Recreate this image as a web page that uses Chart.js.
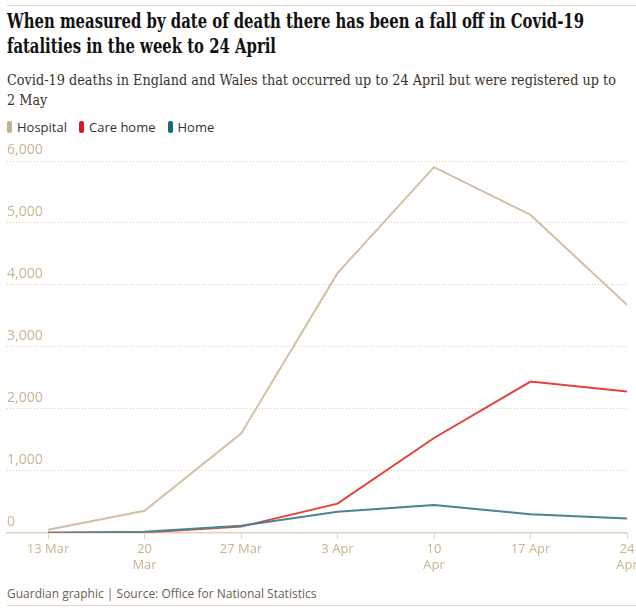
<!DOCTYPE html>
<html>
<head>
<meta charset="utf-8">
<script src="https://cdn.jsdelivr.net/npm/chart.js@4.4.1/dist/chart.umd.min.js"></script>
<style>
  html,body{margin:0;padding:0;background:#fff;width:636px;height:611px;overflow:hidden;position:relative;}
  .rule{position:absolute;left:7px;right:0;height:1px;background:#e3d8c4;}
  #title{position:absolute;left:7px;top:9px;white-space:nowrap;font-family:"DejaVu Serif",serif;font-weight:bold;font-size:20px;line-height:25px;color:#121212;transform-origin:0 0;}
  #sub{position:absolute;left:7px;top:70px;white-space:nowrap;font-family:"DejaVu Serif",serif;font-size:15.5px;line-height:20px;color:#3d3226;transform-origin:0 0;}
  .ln{display:inline-block;}
  #legend{position:absolute;left:7px;top:118px;font-family:"Open Sans",sans-serif;font-size:13px;color:#333;display:flex;gap:0;}
  #legend span.item{display:inline-flex;align-items:center;margin-right:12px;}
  #legend span.sw{display:inline-block;width:5px;height:12px;border-radius:2px;margin-right:5px;}
  #source{position:absolute;left:7px;top:585px;font-family:"Open Sans",sans-serif;font-size:12px;color:#6c5f4d;}
  #wrap{position:absolute;left:0;top:140px;width:660px;height:436px;}
</style>
</head>
<body>
<div class="rule" style="top:5px"></div>
<div id="title"><span class="ln" id="t1">When measured by date of death there has been a fall off in Covid-19</span><br><span class="ln">fatalities in the week to 24 April</span></div>
<div id="sub"><span class="ln" id="s1">Covid-19 deaths in England and Wales that occurred up to 24 April but were registered up to</span><br><span class="ln">2 May</span></div>
<div id="legend"></div>
<div id="wrap"><canvas id="c"></canvas></div>
<div id="source">Guardian graphic | Source: Office for National Statistics</div>
<div class="rule" style="top:605px"></div>
<script>
const categories = ["13 Mar", ["20", "Mar"], "27 Mar", "3 Apr", ["10", "Apr"], "17 Apr", ["24", "Apr"]];
const seriesNames = ["Hospital", "Care home", "Home"];
const hospital = [50, 355, 1600, 4190, 5900, 5130, 3680];
const careHome = [0, 5, 100, 470, 1530, 2440, 2280];
const home = [0, 15, 115, 340, 447, 300, 230];
const yTicks = [0, 1000, 2000, 3000, 4000, 5000, 6000];

const lineColors = ["#d3c0a1", "#e4413a", "#4d8491"];
const swatchColors = ["#c2b096", "#d71920", "#166a7c"];

// fit heading lines to the reference widths (condensed text face)
function fitLine(boxId, lineId, target) {
  const w = document.getElementById(lineId).getBoundingClientRect().width;
  document.getElementById(boxId).style.transform = 'scaleX(' + (target / w) + ')';
}
fitLine('title', 't1', 577);
fitLine('sub', 's1', 609);

const legend = document.getElementById('legend');
seriesNames.forEach((n, i) => {
  const s = document.createElement('span'); s.className = 'item';
  s.innerHTML = '<span class="sw" style="background:' + swatchColors[i] + '"></span>' + n;
  legend.appendChild(s);
});

const toPts = arr => arr.map((v, i) => ({x: i, y: v}));
const tan = "#c8b590";

new Chart(document.getElementById('c'), {
  type: 'line',
  data: {
    datasets: [
      {label: seriesNames[0], data: toPts(hospital), borderColor: lineColors[0], order: 2},
      {label: seriesNames[1], data: toPts(careHome), borderColor: lineColors[1], order: 1},
      {label: seriesNames[2], data: toPts(home), borderColor: lineColors[2], order: 0}
    ]
  },
  options: {
    responsive: true,
    maintainAspectRatio: false,
    animation: false,
    events: [],
    layout: {padding: {left: 7, right: 33, top: 21, bottom: 0}},
    elements: {
      point: {radius: 0},
      line: {borderWidth: 2, tension: 0, borderJoinStyle: 'miter'}
    },
    plugins: {legend: {display: false}, tooltip: {enabled: false}},
    scales: {
      x: {
        type: 'linear',
        min: -0.425,
        max: 6,
        afterBuildTicks: s => { s.ticks = categories.map((_, i) => ({value: i})); },
        ticks: {
          autoSkip: false, maxRotation: 0,
          callback: (v) => categories[v],
          color: tan,
          font: {family: "Open Sans", size: 13},
          padding: 3
        },
        grid: {drawOnChartArea: false, drawTicks: true, tickLength: 6, tickColor: "#e0d3bb", tickWidth: 1},
        border: {display: true, color: "#e0d3bb", width: 1.5}
      },
      y: {
        min: 0, max: 6000,
        afterBuildTicks: s => { s.ticks = yTicks.map(v => ({value: v})); },
        ticks: {
          mirror: true,
          padding: 0,
          labelOffset: -11,
          color: tan,
          font: {family: "Open Sans", size: 14},
          callback: v => v.toLocaleString('en-GB')
        },
        grid: {color: c => c.tick && c.tick.value === 0 ? 'rgba(0,0,0,0)' : "#dccbb0", lineWidth: 1, drawTicks: false},
        border: {display: false, dash: [1, 2]}
      }
    }
  }
});
</script>
</body>
</html>
